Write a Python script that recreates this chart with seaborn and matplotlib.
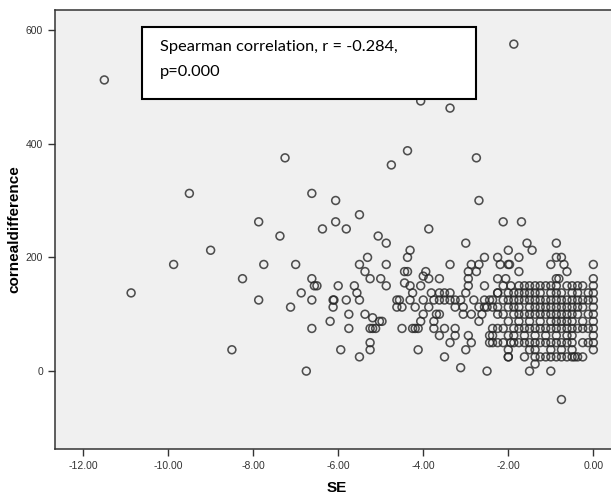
import numpy as np
import pandas as pd
import matplotlib
matplotlib.use("Agg")
import matplotlib.pyplot as plt
from matplotlib.patches import Rectangle
import seaborn as sns

# scattered points (SE, corneal difference)
sparse_se = [-11.5, -10.87, -9.87, -9.5, -9.0, -8.5, -8.25, -7.87, -7.87, -7.75,
             -7.37, -7.25, -7.12, -7.0, -6.87, -6.75, -6.62, -6.62, -6.62, -6.62,
             -6.56, -6.5, -6.37, -6.19, -6.12, -6.1, -6.12, -6.06, -6.06, -6.0,
             -5.94, -5.81, -5.81, -5.75, -5.75, -5.62, -5.56, -5.5, -5.5, -5.5,
             -5.5, -5.37, -5.37, -5.31, -5.25, -5.19, -5.12, -5.25, -5.25, -5.25,
             -5.19, -5.06, -5.03, -4.97, -5.0, -4.87, -4.87, -4.87, -4.75, -4.62,
             -4.56, -4.62, -4.5, -4.5, -4.44, -4.37, -4.44, -4.37, -4.37, -4.31,
             -4.31, -4.31, -4.25, -4.19, -4.12, -4.12, -4.25, -4.19, -4.06, -4.06,
             -4.06, -4.0, -4.0, -4.0, -3.94, -3.87, -3.87, -3.87, -3.81, -3.75,
             -3.75, -3.69, -3.62, -3.62, -3.62, -3.5, -3.5, -3.37, -3.37, -3.37,
             -3.25, -3.25, -3.25, -3.12, -3.06, -3.06, -3.0, -3.0, -3.0, -2.94,
             -2.94, -2.94, -2.94, -2.87, -2.87, -2.87, -2.81, -2.75, -2.75, -2.69,
             -2.69, -2.69, -2.69, -2.62, -2.56, -2.56, -2.56, -2.56, -2.5, -2.25,
             -2.25, -2.25, -2.19, -2.12, -2.12, -2.06, -2.0, -1.97, -2.0, -1.94,
             -2.0, -1.87, -1.75, -1.75, -1.69, -1.56, -1.44, -1.5, -1.37, -1.0,
             -1.0, -0.87, -0.87, -0.75, -0.87, -0.81, -0.69, -0.62, -0.75, 0.0,
             0.0]
sparse_cd = [512, 137.5, 187.5, 312.5, 212.5, 37.5, 162.5, 262.5, 125, 187.5,
             237.5, 375, 112.5, 187.5, 137.5, 0, 312.5, 162.5, 125, 75,
             150, 150, 250, 87.5, 125, 125, 112.5, 300, 262.5, 150,
             37.5, 250, 125, 100, 75, 150, 137.5, 275, 187.5, 125,
             25, 175, 100, 200, 75, 75, 75, 162.5, 50, 37.5,
             93.75, 237.5, 87.5, 87.5, 162.5, 225, 187.5, 150, 362.5, 125,
             125, 112.5, 112.5, 75, 175, 175, 155, 387.5, 200, 212.5,
             150, 125, 75, 75, 75, 37.5, 137.5, 112.5, 150, 475,
             87.5, 125, 100, 167, 175, 250, 162.5, 112.5, 137.5, 75,
             87.5, 100, 100, 62.5, 162.5, 75, 25, 462.5, 187.5, 50,
             75, 62.5, 112.5, 6, 112.5, 100, 225, 137.5, 37.5, 150,
             162.5, 175, 62.5, 187.5, 100, 50, 125, 375, 175, 300,
             187.5, 112.5, 87.5, 100, 200, 150, 125, 112.5, 0, 200,
             162.5, 137.5, 187.5, 262.5, 150, 162.5, 187.5, 187.5, 212.5, 150,
             25, 575, 200, 175, 262.5, 225, 212.5, 0, 12.5, 0,
             187.5, 225, 200, 200, 162.5, 162.5, 187.5, 175, -50, 187.5,
             162.5]

# dense cluster near SE = 0, one list of SE values per corneal difference row
row_150 = [-1.75, -1.62, -1.5, -1.37, -1.25, -1.12, -1.0, -0.87, -0.62, -0.5,
           -0.37, -0.25, 0.0]
row_137 = [-3.62, -3.5, -3.37, -2.25, -2.0, -1.87, -1.75, -1.62, -1.5, -1.37,
           -1.25, -1.0, -0.87, -0.75, -0.5, -0.37, -0.12, 0.0]
row_125 = [-3.75, -3.62, -3.5, -3.37, -3.25, -3.12, -2.44, -2.37, -2.12, -2.0,
           -1.87, -1.75, -1.62, -1.5, -1.37, -1.25, -1.12, -1.0, -0.87, -0.75,
           -0.62, -0.5, -0.37, -0.25, -0.12, 0.0]
row_112 = [-2.5, -2.37, -2.25, -2.0, -1.87, -1.75, -1.5, -1.37, -1.25, -1.12,
           -1.0, -0.87, -0.75, -0.62, -0.5, -0.37, -0.25, 0.0]
row_100 = [-2.25, -2.12, -1.87, -1.75, -1.62, -1.5, -1.37, -1.25, -1.12, -1.0,
           -0.87, -0.75, -0.62, -0.5, -0.37, -0.12, 0.0]
row_87 = [-2.0, -1.75, -1.5, -1.25, -1.0, -0.87, -0.75, -0.62, -0.5, -0.25, 0.0]
row_75 = [-2.37, -2.25, -2.12, -1.87, -1.75, -1.62, -1.5, -1.37, -1.25, -1.12,
          -1.0, -0.87, -0.75, -0.62, -0.5, -0.37, -0.25, -0.12, 0.0]
row_62 = [-2.44, -2.37, -2.0, -1.87, -1.62, -1.37, -1.12, -0.87, -0.62, -0.5, 0.0]
row_50 = [-2.44, -2.37, -2.25, -2.12, -1.94, -1.87, -1.75, -1.62, -1.5, -1.37,
          -1.25, -1.12, -1.0, -0.87, -0.75, -0.62, -0.5, -0.25, -0.12, 0.0]
row_37 = [-2.0, -1.5, -1.37, -1.0, -0.75, -0.5, 0.0]
row_25 = [-2.0, -1.62, -1.37, -1.25, -1.12, -1.0, -0.87, -0.75, -0.62, -0.5,
          -0.44, -0.37, -0.25]

rows = [(150, row_150), (137.5, row_137), (125, row_125), (112.5, row_112),
        (100, row_100), (87.5, row_87), (75, row_75), (62.5, row_62),
        (50, row_50), (37.5, row_37), (25, row_25)]

x_ticks = [-12, -10, -8, -6, -4, -2, 0]
y_ticks = [0, 200, 400, 600]

se = list(sparse_se)
cd = list(sparse_cd)
for level, xs in rows:
    se += xs
    cd += [level] * len(xs)
df = pd.DataFrame({"SE": se, "cornealdifference": cd})

plt.rcParams["font.family"] = ["Liberation Sans", "DejaVu Sans"]
plt.rcParams["axes.unicode_minus"] = False

fig = plt.figure(figsize=(6.11, 4.93), dpi=100)
ax = fig.add_axes([55 / 611, 44 / 493, 563 / 611, 439 / 493])
ax.set_facecolor("#f0f0f0")

sns.scatterplot(data=df, x="SE", y="cornealdifference", ax=ax,
                marker="o", s=32, facecolor="none", edgecolor="#262626",
                linewidth=1.15, alpha=0.8)

ax.set_xlim(-12.66, 0.58)
ax.set_ylim(-137, 635)
ax.set_xticks(x_ticks)
ax.set_xticklabels([f"{t:.2f}" for t in x_ticks])
ax.set_yticks(y_ticks)
ax.tick_params(axis="both", direction="out", length=5, width=1,
               labelsize=7.5, labelcolor="#333333", color="#333333")
for side in ["left", "bottom", "top"]:
    ax.spines[side].set_color("#333333")
    ax.spines[side].set_linewidth(1.1)
ax.spines["right"].set_visible(False)

ax.set_xlabel("SE", fontsize=11, fontweight="bold", labelpad=7)
ax.set_ylabel("cornealdifference", fontsize=11, fontweight="bold", labelpad=3)

# annotation box with the correlation result
fig.patches.append(Rectangle((142 / 611, 1 - 99 / 493), 334 / 611, 72 / 493,
                             transform=fig.transFigure, facecolor="white",
                             edgecolor="black", linewidth=1.5, zorder=5))
fig.text(160 / 611, 1 - 47 / 493, "Spearman correlation, r = -0.284,",
         fontsize=11.8, family=["Lato", "DejaVu Sans"], va="center",
         ha="left", zorder=6)
fig.text(160 / 611, 1 - 72 / 493, "p=0.000",
         fontsize=11.8, family=["Lato", "DejaVu Sans"], va="center",
         ha="left", zorder=6)

fig.savefig("out.png", dpi=100)
